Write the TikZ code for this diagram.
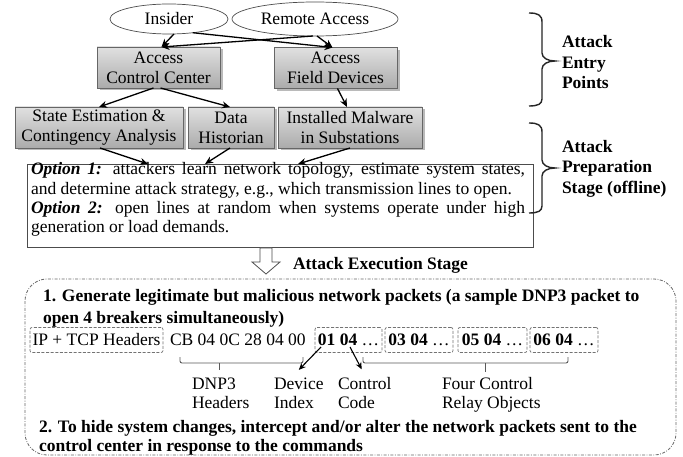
\documentclass[tikz,border=0pt]{standalone}
\usepackage{fontspec}
\setmainfont{Liberation Serif}
\usetikzlibrary{arrows.meta,shadows,shapes.geometric,calc}
\begin{document}
\begin{tikzpicture}[x=1pt,y=-1pt,
  every node/.style={inner sep=0pt,outer sep=0pt},
  rm/.style={font=\fontsize{17.5}{20}\selectfont},
  bf/.style={font=\fontsize{17.5}{20}\selectfont\bfseries},
  ell/.style={ellipse,draw=black!70,line width=0.7pt,fill=white,rm},
  gbox/.style={rectangle,draw=black!60,line width=0.7pt,top color=black!12,bottom color=black!33,
     drop shadow={shadow xshift=2.5pt,shadow yshift=-2.5pt,fill=black!60,opacity=0.45},align=center,rm},
  arr/.style={draw=black,line width=1.3pt,-{Stealth[length=8pt,width=7pt]}},
  parr/.style={draw=black,line width=1.1pt,-{Stealth[length=7pt,width=6pt]}},
  pbox/.style={rectangle,draw=black!55,line width=0.7pt,dash pattern=on 3pt off 1.6pt,rounded corners=2pt,minimum height=25pt,rm},
  brc/.style={draw=black!85,line width=1.4pt},
  bkt/.style={draw=black!65,line width=0.9pt,rounded corners=2pt},
]
\useasboundingbox (0,0) rectangle (683,457);
\fill[white] (0,0) rectangle (683,457);

% entry points
\node[ell,minimum width=118pt,minimum height=30pt] (ins) at (169,19) {Insider};
\node[ell,minimum width=166pt,minimum height=34pt] (rem) at (315,19) {Remote Access};
\node[gbox,minimum width=123pt,minimum height=41pt] (acc) at (158.5,67.5) {Access\\Control Center};
\node[gbox,minimum width=123pt,minimum height=41pt] (afd) at (335.5,68) {Access\\Field Devices};
\node[gbox,minimum width=168pt,minimum height=41pt] (se) at (99,127.5) {State Estimation \&\\Contingency Analysis};
\node[gbox,minimum width=86pt,minimum height=41pt] (dh) at (231,127.5) {Data\\Historian};
\node[gbox,minimum width=144pt,minimum height=41pt] (im) at (350,127.5) {Installed Malware\\in Substations};

\draw[arr] ([xshift=5pt]ins.south) -- ([xshift=3pt]acc.north);
\draw[arr] (ins.-30) -- ([xshift=-3pt]afd.north);
\draw[arr] ([xshift=-2pt]rem.south) -- ([xshift=3pt]acc.north);
\draw[arr] ([xshift=2pt]rem.south) -- ([xshift=-3pt]afd.north);
\draw[arr] ([xshift=-5pt]acc.south) -- (se.north);
\draw[arr] ([xshift=2pt]acc.south) -- ([xshift=-1pt]dh.north);
\draw[arr] ([xshift=2pt]afd.south) -- ([xshift=-3pt]im.north);

% preparation
\node[draw=black!70,line width=0.8pt,fill=white,minimum width=506pt,minimum height=83pt] (opt) at (280,205.5) {};
\draw[arr] ([xshift=1pt]se.south) -- ($(opt.north west)+(121,0)$);
\draw[arr] ([xshift=-1pt]dh.south) -- ($(opt.north west)+(178,0)$);
\draw[arr] (im.south) -- ($(opt.north west)+(271,0)$);
\node[rm,anchor=base west] (o1) at (31,175) {\makebox[494pt][s]{\textbf{\textit{Option 1:}} attackers learn network topology, estimate system states,}};
\node[rm,anchor=base west] (o2) at (31,194.5) {and determine attack strategy, e.g., which transmission lines to open.};
\node[rm,anchor=base west] (o3) at (31,214) {\makebox[494pt][s]{\textbf{\textit{Option 2:}} open lines at random when systems operate under high}};
\node[rm,anchor=base west] (o4) at (31,233) {generation or load demands.};

% braces
\draw[brc] (529,13) .. controls (538,13) and (542,15) .. (542,22) -- (542,53)
  .. controls (542,58) and (548,61) .. (555,61) .. controls (548,61) and (542,64) .. (542,69)
  -- (542,99) .. controls (542,104) and (538,106) .. (529,106);
\node[bf,anchor=base west] (e1) at (562,48) {Attack};
\node[bf,anchor=base west] (e2) at (562,69) {Entry};
\node[bf,anchor=base west] (e3) at (562,89) {Points};
\draw[brc] (529,123) .. controls (538,123) and (542,125) .. (542,132) -- (542,160)
  .. controls (542,165) and (548,168) .. (555,168) .. controls (548,168) and (542,171) .. (542,176)
  -- (542,206) .. controls (542,211) and (538,213) .. (529,213);
\node[bf,anchor=base west] (p1) at (562,152.5) {Attack};
\node[bf,anchor=base west] (p2) at (562,173) {Preparation};
\node[bf,anchor=base west] (p3) at (562,193.5) {Stage (offline)};

% execution
\draw[black!70,line width=0.8pt,fill=white] (260,248) -- (272,248) -- (272,262) -- (280,262) -- (266,274) -- (252,262) -- (260,262) -- cycle;
\node[bf,anchor=base west] (aes) at (293,269.5) {Attack Execution Stage};
\draw[black!60,line width=0.8pt,dash pattern=on 3pt off 1.5pt on 0.8pt off 1.5pt,rounded corners=22pt] (25,279) rectangle (676,455);

\node[bf,anchor=base west] (g1) at (43,301.5) {1. Generate legitimate but malicious network packets (a sample DNP3 packet to};
\node[bf,anchor=base west] (g2) at (43,323.5) {open 4 breakers simultaneously)};

\node[pbox,minimum width=133pt] (ip) at (96.5,340) {IP + TCP Headers};
\node[rm,anchor=base west] (cb) at (170,345.5) {CB 04 0C 28 04 00};
\node[pbox,minimum width=67pt] (b1) at (348.5,340) {\textbf{01 04} …};
\node[pbox,minimum width=68pt] (b2) at (419,340) {\textbf{03 04} …};
\node[pbox,minimum width=69pt] (b3) at (492.5,340) {\textbf{05 04} …};
\node[pbox,minimum width=68pt] (b4) at (564,340) {\textbf{06 04} …};

\draw[bkt] (180,357) -- (180,363) -- (303,363) -- (303,357);
\draw[bkt] (219,363) -- (219,370);
\draw[bkt] (363,357) -- (363,363) -- (568,363) -- (568,357);
\draw[bkt] (485,363) -- (485,372);

\node[rm,anchor=base west] (dn1) at (192,389.5) {DNP3};
\node[rm,anchor=base west] (dn2) at (192,408) {Headers};
\node[rm,anchor=base west] (dv1) at (274,389.5) {Device};
\node[rm,anchor=base west] (dv2) at (274,408) {Index};
\node[rm,anchor=base west] (ct1) at (338,389.5) {Control};
\node[rm,anchor=base west] (ct2) at (338,408) {Code};
\node[rm,anchor=base west] (fc1) at (442,389.5) {Four Control};
\node[rm,anchor=base west] (fc2) at (442,408) {Relay Objects};

\draw[parr] ($(b1.west)+(6,7)$) -- ($(dv1.north)+(0,-8)$);
\draw[parr] ($(b1.west)+(35,7)$) -- ($(ct1.north)+(-3,-8)$);

\node[bf,anchor=base west] (h1) at (39,432) {2. To hide system changes, intercept and/or alter the network packets sent to the};
\node[bf,anchor=base west] (h2) at (39,451) {control center in response to the commands};
\end{tikzpicture}
\end{document}
